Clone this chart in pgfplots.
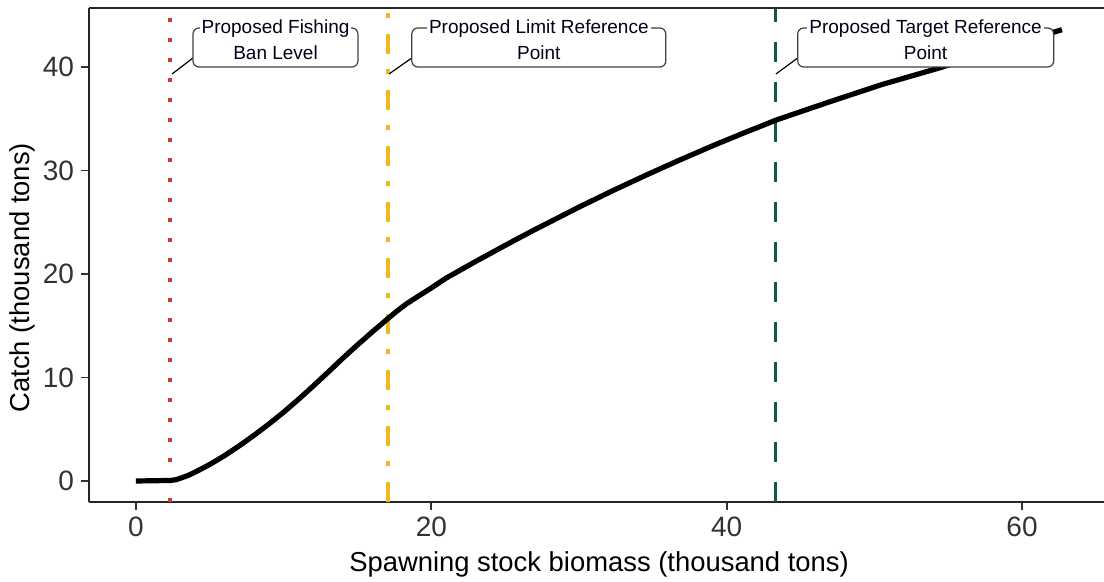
\documentclass[border=0pt]{standalone}
\usepackage{pgfplots}
\pgfplotsset{compat=1.18}
\usepackage{fontspec}
\setmainfont{Liberation Sans}
\definecolor{banred}{RGB}{215,55,45}
\definecolor{limyellow}{RGB}{238,186,30}
\definecolor{targreen}{RGB}{14,90,68}
\definecolor{tickgray}{RGB}{50,50,50}
\begin{document}
\begin{tikzpicture}
\begin{axis}[
  scale only axis,
  width=507.5pt, height=247pt,
  xmin=-3.18, xmax=65.55,
  ymin=-2.03, ymax=45.7,
  axis lines=left,
  axis line style={-, line width=0.9pt, black!85},
  xtick={0,20,40,60},
  ytick={0,10,20,30,40},
  tick align=outside,
  major tick length=4pt,
  tick style={line width=0.9pt, black!80},
  /pgf/number format/assume math mode=true,
  ticklabel style={font=\fontsize{14}{16}\selectfont, text=tickgray},
  xlabel={Spawning stock biomass (thousand tons)},
  ylabel={Catch (thousand tons)},
  label style={font=\fontsize{13.7}{16}\selectfont},
  xlabel style={at={(axis description cs:0.5025,0)}, anchor=base, yshift=-34.6pt},
  ylabel style={at={(axis description cs:-0.066,0.454)}, anchor=center},
  clip=false,
]
\addplot[no marks, line width=1.9pt, banred, dash pattern=on 2pt off 8pt] coordinates {(2.3,-2.03) (2.3,45.7)};
\addplot[no marks, line width=1.9pt, limyellow, dash pattern=on 10pt off 8pt on 2.3pt off 7.7pt] coordinates {(17.06,-2.03) (17.06,45.7)};
\addplot[no marks, line width=1.9pt, targreen, dash pattern=on 10pt off 10pt] coordinates {(43.3,-2.03) (43.3,45.7)};
\addplot[no marks, line width=2.6pt, black, line join=round] coordinates {
(0,0) (2.3,0.05) (2.7,0.12) (3.0,0.26) (3.5,0.52) (4,0.85) (5,1.6) (6,2.45)
(7,3.4) (8,4.42) (9,5.5) (10,6.65) (11,7.88) (12,9.17) (13,10.5) (14,11.85)
(15,13.15) (16,14.4) (17,15.62) (17.7,16.45) (18.3,17.1) (19,17.75) (20,18.65)
(21,19.6) (23,21.21) (25.5,23.15) (27,24.28) (30.05,26.5) (32.3,28.06)
(34.6,29.59) (36.8,31.0) (39.1,32.42) (41.2,33.65) (43.4,34.9) (47,36.65)
(50.5,38.3) (54.5,39.95) (58.5,41.8) (62.7,43.6)};
% top border
\draw[line width=0.9pt, black!85] (rel axis cs:0,1) -- (rel axis cs:1,1);
% callouts
\draw[line width=0.6pt, black] (axis cs:3.86,40.87) -- (axis cs:2.44,39.32);
\draw[line width=0.6pt, black] (axis cs:18.68,40.87) -- (axis cs:17.13,39.32);
\draw[line width=0.6pt, black] (axis cs:44.81,40.87) -- (axis cs:43.33,39.32);
\draw[line width=0.6pt, black!75, fill=white, rounded corners=3pt] (axis cs:3.86,40.0) rectangle (axis cs:15.03,43.77);
\draw[line width=0.6pt, black!75, fill=white, rounded corners=3pt] (axis cs:18.68,40.0) rectangle (axis cs:35.88,43.77);
\draw[line width=0.6pt, black!75, fill=white, rounded corners=3pt] (axis cs:44.81,40.0) rectangle (axis cs:62.14,43.77);
\tikzset{cl/.style={font=\fontsize{9.5}{11}\selectfont, text=black!90!blue, inner sep=1pt, anchor=base}}
\node[cl, fill=white] at (axis cs:9.45,43.26) {Proposed Fishing};
\node[cl] at (axis cs:9.45,40.74) {Ban Level};
\node[cl, fill=white] at (axis cs:27.28,43.26) {Proposed Limit Reference};
\node[cl] at (axis cs:27.28,40.74) {Point};
\node[cl, fill=white] at (axis cs:53.47,43.26) {Proposed Target Reference};
\node[cl] at (axis cs:53.47,40.74) {Point};
\coordinate (bl) at (rel axis cs:0,0);
\coordinate (tr) at (rel axis cs:1,1);
\end{axis}
\pgfresetboundingbox
\path[use as bounding box] ([shift={(-44.5pt,-39.5pt)}]bl) rectangle ([shift={(0pt,4pt)}]tr);
\end{tikzpicture}
\end{document}
